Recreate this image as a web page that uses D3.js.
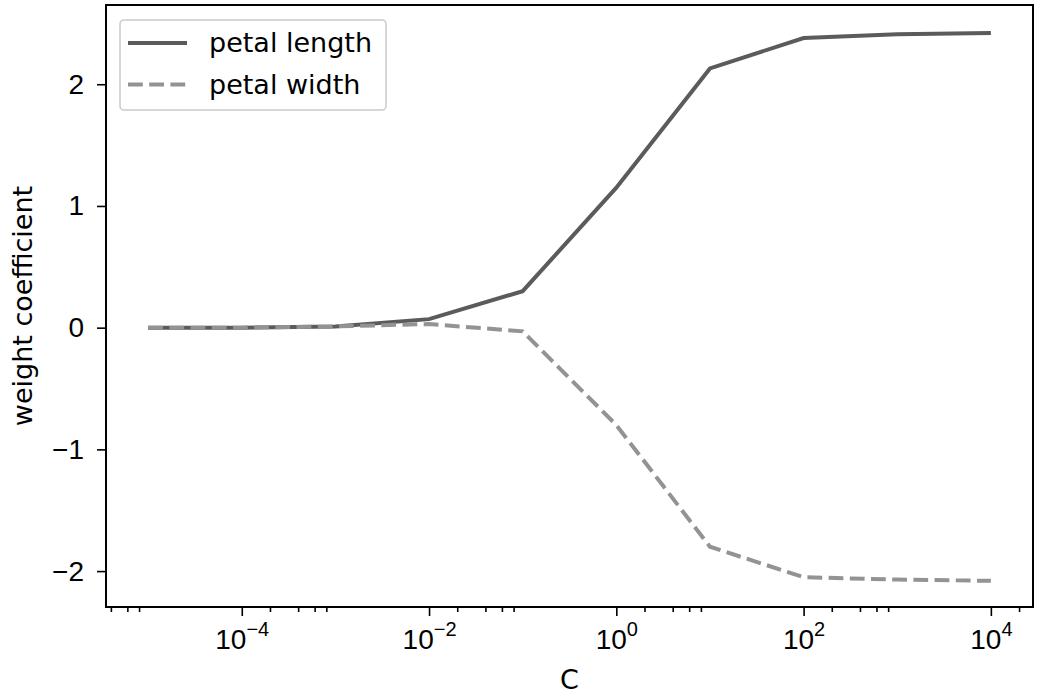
<!DOCTYPE html>
<html>
<head>
<meta charset="utf-8">
<script src="https://d3js.org/d3.v7.min.js"></script>
<style>
  body { margin: 0; background: #fff; }
  svg { display: block; font-family: "DejaVu Sans", sans-serif; }
  .axis path { display: none; }
  .axis line { stroke: #000; stroke-width: 1.6; }
</style>
</head>
<body>
<div id="chart"></div>
<script>
// Regularization strength C (log scale)
var cValues = [1e-5, 1e-4, 1e-3, 1e-2, 1e-1, 1e0, 1e1, 1e2, 1e3, 1e4];

// Weight coefficients
var petalLength = [0.0, 0.0, 0.01, 0.07, 0.30, 1.15, 2.13, 2.38, 2.41, 2.42];
var petalWidth = [0.0, 0.0, 0.01, 0.03, -0.03, -0.80, -1.80, -2.05, -2.07, -2.08];

var seriesNames = ["petal length", "petal width"];

var xMajor = [1e-4, 1e-2, 1e0, 1e2, 1e4];
var xMinor = [4e-6, 6e-6, 8e-6, 2e-4, 4e-4, 6e-4, 8e-4, 2e-2, 4e-2, 6e-2, 8e-2,
              2e0, 4e0, 6e0, 8e0, 2e2, 4e2, 6e2, 8e2, 2e4];
var yTicks = [-2, -1, 0, 1, 2];

var svgWidth = 1040;
var svgHeight = 694;

// plot frame edges in pixels
var frame = { left: 106, right: 1033, top: 5, bottom: 607 };

var svg = d3.select("#chart")
  .append("svg")
  .attr("width", svgWidth)
  .attr("height", svgHeight);

var x = d3.scaleLog()
  .domain([Math.pow(10, -5.45), Math.pow(10, 4.45)])
  .range([frame.left, frame.right]);

var y = d3.scaleLinear()
  .domain([-2.295, 2.651])
  .range([frame.bottom, frame.top]);

// minor x ticks
svg.append("g")
  .attr("class", "axis")
  .attr("transform", `translate(0, ${frame.bottom})`)
  .call(d3.axisBottom(x).tickValues(xMinor).tickSize(5).tickFormat(""));

// major x ticks with superscript labels
var xAxis = svg.append("g")
  .attr("class", "axis")
  .attr("transform", `translate(0, ${frame.bottom})`)
  .call(d3.axisBottom(x).tickValues(xMajor).tickSize(9).tickPadding(10).tickFormat(""));

xAxis.selectAll(".tick text").remove();
xAxis.selectAll(".tick").append("text")
  .attr("y", 42)
  .attr("text-anchor", "middle")
  .attr("fill", "#000")
  .style("font-size", "28px")
  .each(function (d) {
    var e = Math.round(Math.log10(d));
    var t = d3.select(this);
    t.append("tspan").text("10");
    t.append("tspan")
      .attr("dy", -13)
      .style("font-size", "20px")
      .text(String(e).replace("-", "\u2212"));
  });

// y axis
svg.append("g")
  .attr("class", "axis")
  .attr("transform", `translate(${frame.left}, 0)`)
  .call(d3.axisLeft(y).tickValues(yTicks).tickSize(9).tickPadding(13)
    .tickFormat(d => String(d).replace("-", "\u2212")))
  .selectAll("text")
  .attr("fill", "#000")
  .style("font-size", "28px");

// lines
var lineData = [
  { name: seriesNames[0], values: petalLength, color: "#5b5b5b", dash: null },
  { name: seriesNames[1], values: petalWidth, color: "#939393", dash: "14.8,6.4" }
];

var line = d3.line()
  .x((d, i) => x(cValues[i]))
  .y(d => y(d));

lineData.forEach(function (s) {
  svg.append("path")
    .datum(s.values)
    .attr("d", line)
    .attr("fill", "none")
    .attr("stroke", s.color)
    .attr("stroke-width", 4)
    .attr("stroke-dasharray", s.dash);
});

// frame
svg.append("rect")
  .attr("x", frame.left)
  .attr("y", frame.top)
  .attr("width", frame.right - frame.left)
  .attr("height", frame.bottom - frame.top)
  .attr("fill", "none")
  .attr("stroke", "#000")
  .attr("stroke-width", 2);

// axis labels
svg.append("text")
  .attr("x", (frame.left + frame.right) / 2)
  .attr("y", 689)
  .attr("text-anchor", "middle")
  .style("font-size", "27px")
  .text("C");

svg.append("text")
  .attr("transform", "rotate(-90)")
  .attr("x", -(frame.top + frame.bottom) / 2)
  .attr("y", 32)
  .attr("text-anchor", "middle")
  .style("font-size", "27px")
  .text("weight coefficient");

// legend
var legend = svg.append("g");
legend.append("rect")
  .attr("x", 120)
  .attr("y", 20)
  .attr("width", 266)
  .attr("height", 90)
  .attr("rx", 4)
  .attr("fill", "#fff")
  .attr("fill-opacity", 0.8)
  .attr("stroke", "#cccccc")
  .attr("stroke-width", 1.6);

lineData.forEach(function (s, i) {
  var ly = 43 + i * 41.5;
  legend.append("line")
    .attr("x1", 128)
    .attr("x2", 187)
    .attr("y1", ly)
    .attr("y2", ly)
    .attr("stroke", s.color)
    .attr("stroke-width", 4)
    .attr("stroke-dasharray", s.dash);
  legend.append("text")
    .attr("x", 209)
    .attr("y", ly)
    .attr("dy", "0.35em")
    .style("font-size", "27px")
    .text(s.name);
});
</script>
</body>
</html>
